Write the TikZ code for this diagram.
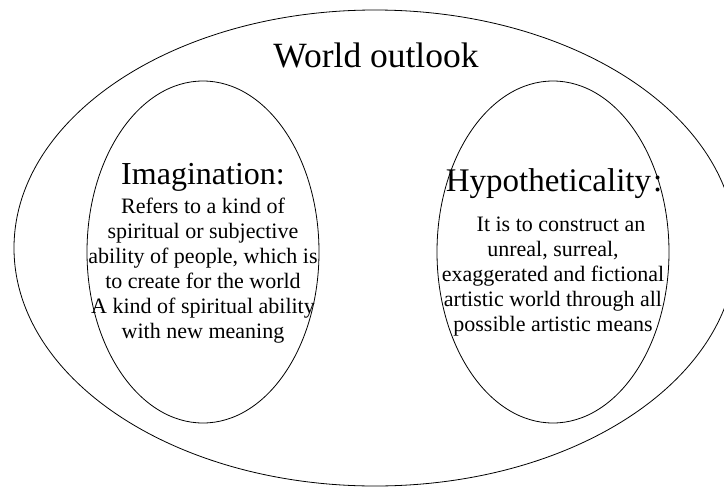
\documentclass[tikz,border=0pt]{standalone}
\usepackage{fontspec}
\setmainfont{Liberation Serif}
\usetikzlibrary{shapes.geometric}
\begin{document}
\begin{tikzpicture}[x=1pt,y=-1pt,
  oval/.style={draw, ellipse, inner sep=0pt, line width=0.8pt},
  titletext/.style={font=\fontsize{35.5}{40}\selectfont, anchor=base, inner sep=0pt},
  headtext/.style={font=\fontsize{32}{36}\selectfont, anchor=base, inner sep=0pt},
  bodytext/.style={font=\fontsize{22}{25}\selectfont, align=center, anchor=north, inner sep=0pt}]
\useasboundingbox (0,0) rectangle (724,488);
\clip (0,0) rectangle (724,488);
\node[oval, minimum width=722pt, minimum height=476pt] (world) at (375,248) {};
\node[oval, minimum width=232pt, minimum height=342pt] (imag) at (203,252) {};
\node[oval, minimum width=232pt, minimum height=342pt] (hypo) at (553,252) {};
\node[titletext] (wtitle) at (376,67) {World outlook};
\node[headtext] (ititle) at (203,184) {Imagination:};
\node[headtext, font=\fontsize{33}{36}\selectfont] (htitle) at (554,191) {Hypotheticality\hspace{2pt}:};
\node[bodytext] (ibody) at (203,198) {Refers to a kind of\\spiritual or subjective\\ability of people, which is\\to create for the world\\A kind of spiritual ability\\with new meaning};
\node[bodytext] (hbody) at (553,217) {\hspace*{16pt}It is to construct an\\unreal, surreal,\\exaggerated and fictional\\artistic world through all\\possible artistic means};
\end{tikzpicture}
\end{document}
